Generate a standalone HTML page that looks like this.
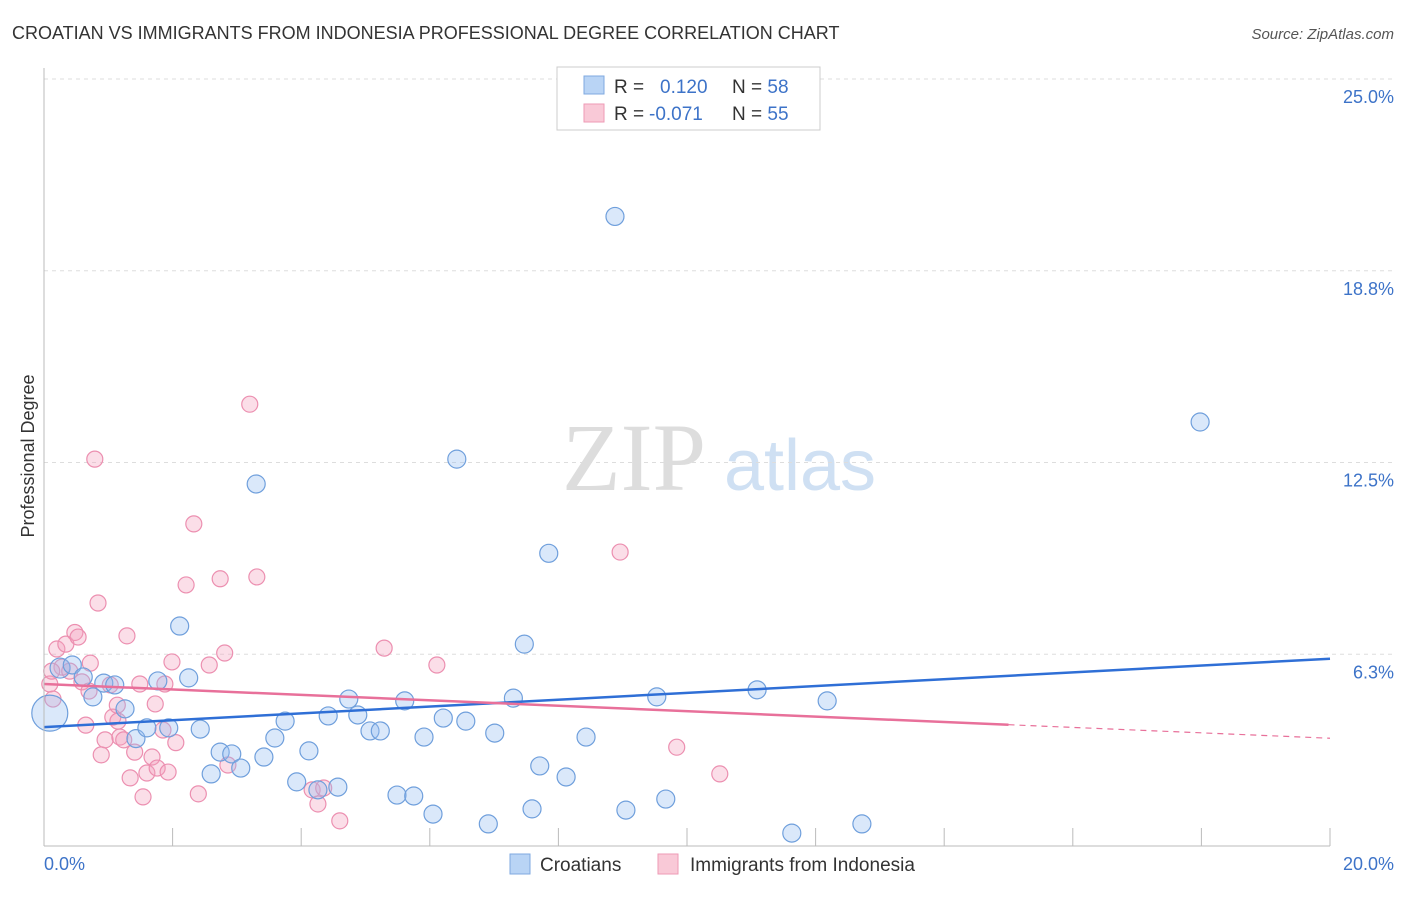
<!DOCTYPE html>
<html><head><meta charset="utf-8"><style>
body{margin:0;background:#fff;font-family:"Liberation Sans",sans-serif;}
</style></head><body>
<svg id="c" width="1406" height="892" xmlns="http://www.w3.org/2000/svg">
<text x="12" y="39" font-size="18" fill="#333">CROATIAN VS IMMIGRANTS FROM INDONESIA PROFESSIONAL DEGREE CORRELATION CHART</text>
<text x="1394" y="39" font-size="15" fill="#555" text-anchor="end" font-style="italic">Source: ZipAtlas.com</text>
<text x="34" y="456" font-size="18" fill="#333" text-anchor="middle" transform="rotate(-90 34 456)">Professional Degree</text>
<g><text x="634" y="490" font-size="96" fill="#ddd" text-anchor="middle" font-family="Liberation Serif,serif">ZIP</text><text x="800" y="490" font-size="72" fill="#cfe0f3" text-anchor="middle">atlas</text></g>
<g id="grid"></g><g id="pts"></g><g id="lines"></g>
<line x1="44" y1="68" x2="44" y2="846" stroke="#bbb"/>
<line x1="44" y1="846" x2="1330" y2="846" stroke="#bbb"/>
<text x="44" y="870" font-size="18" fill="#3d73c8">0.0%</text>
<text x="1394" y="870" font-size="18" fill="#3d73c8" text-anchor="end">20.0%</text>
<g>
<rect x="557" y="67" width="263" height="63" fill="#fff" stroke="#ccc"/>
<rect x="584" y="76" width="20" height="18" fill="#b9d4f5" stroke="#7fa9e0"/>
<rect x="584" y="104" width="20" height="18" fill="#f9c9d7" stroke="#ee9ab5"/>
<text x="614" y="93" font-size="19" fill="#333">R = <tspan fill="#3d73c8" x="660">0.120</tspan><tspan x="732">N = </tspan><tspan fill="#3d73c8">58</tspan></text>
<text x="614" y="120" font-size="19" fill="#333">R = <tspan fill="#3d73c8" x="649">-0.071</tspan><tspan x="732">N = </tspan><tspan fill="#3d73c8">55</tspan></text>
</g>
<g>
<rect x="510" y="854" width="20" height="20" fill="#b9d4f5" stroke="#7fa9e0"/>
<text x="540" y="871" font-size="19" fill="#333">Croatians</text>
<rect x="658" y="854" width="20" height="20" fill="#f9c9d7" stroke="#ee9ab5"/>
<text x="690" y="871" font-size="19" fill="#333">Immigrants from Indonesia</text>
</g>
</svg>
<script>
const yTicks=[25.0,18.75,12.5,6.25];
const yTickLabels=["25.0%","18.8%","12.5%","6.3%"];
const xTicks=[2,4,6,8,10,12,14,16,18,20];
const blueX=[0.09,0.25,0.44,0.61,0.76,0.93,1.10,1.26,1.43,1.60,1.77,1.94,2.11,2.25,2.43,2.60,2.74,2.92,3.06,3.30,3.42,3.59,3.75,3.93,4.12,4.26,4.42,4.57,4.74,4.88,5.07,5.23,5.49,5.61,5.75,5.91,6.05,6.21,6.42,6.56,6.91,7.01,7.30,7.47,7.59,7.71,7.85,8.12,8.43,8.88,9.05,9.53,9.67,11.09,11.63,12.18,12.72,17.98];
const blueY=[4.33,5.80,5.90,5.51,4.86,5.31,5.25,4.47,3.50,3.85,5.38,3.85,7.17,5.48,3.81,2.35,3.06,3.00,2.54,11.80,2.90,3.52,4.07,2.09,3.10,1.83,4.24,1.92,4.79,4.27,3.75,3.75,1.66,4.73,1.63,3.55,1.04,4.17,12.61,4.07,0.72,3.68,4.82,6.58,1.21,2.61,9.54,2.25,3.55,20.52,1.17,4.86,1.53,5.09,0.42,4.73,0.72,13.82];
const blueR=[18,10,9,9,9,9,9,9,9,9,9,9,9,9,9,9,9,9,9,9,9,9,9,9,9,9,9,9,9,9,9,9,9,9,9,9,9,9,9,9,9,9,9,9,9,9,9,9,9,9,9,9,9,9,9,9,9,9];
const pinkX=[0.09,0.14,0.20,0.28,0.34,0.40,0.48,0.53,0.59,0.65,0.72,0.79,0.84,0.89,0.95,1.03,1.07,1.14,1.18,1.24,1.29,1.34,1.41,1.49,1.54,1.60,1.68,1.73,1.76,1.85,1.93,1.99,2.05,2.21,2.33,2.40,2.74,2.81,2.86,2.57,3.20,3.31,4.17,4.26,4.35,4.60,5.29,6.11,8.96,9.84,10.51,1.15,1.88,0.12,0.70];
const pinkY=[5.28,4.79,6.42,5.83,6.58,5.70,6.96,6.81,5.35,3.94,5.96,12.61,7.92,2.97,3.46,5.25,4.20,4.59,3.55,3.46,6.85,2.22,3.06,5.28,1.60,2.38,2.90,4.63,2.54,3.78,2.41,6.00,3.37,8.51,10.50,1.70,8.71,6.29,2.64,5.90,14.40,8.77,1.83,1.37,1.89,0.82,6.45,5.90,9.58,3.22,2.35,4.07,5.28,5.70,5.05];
const X=v=>44+v/20*1286, Y=v=>846-v/25*767;
const NS="http://www.w3.org/2000/svg";
function mk(tag,attrs,parent){const e=document.createElementNS(NS,tag);for(const k in attrs)e.setAttribute(k,attrs[k]);document.getElementById(parent).appendChild(e);return e;}
yTicks.forEach((t,i)=>{
 const l=mk('line',{x1:44,x2:1394,y1:Y(t),y2:Y(t),stroke:'#ddd','stroke-dasharray':'4,4'},'grid');
 
 
 const tx=mk('text',{x:1394,y:Y(t)+24,'font-size':18,fill:'#3d73c8','text-anchor':'end'},'grid');
 tx.textContent=yTickLabels[i];
 
 
});
xTicks.forEach(t=>{
 const l=mk('line',{x1:X(t),x2:X(t),y1:828,y2:846,stroke:'#bbb'},'grid');
 
 
});
pinkX.forEach((v,i)=>{
 const c=mk('circle',{cx:X(v),cy:Y(pinkY[i]),r:8,fill:'rgba(244,160,190,0.35)',stroke:'#ec8fb0','stroke-width':1.2},'pts');
 
 
});
blueX.forEach((v,i)=>{
 const c=mk('circle',{cx:X(v),cy:Y(blueY[i]),r:blueR[i],fill:'rgba(150,190,240,0.35)',stroke:'#6f9fdc','stroke-width':1.2},'pts');
 
 
});
function fit(xs,ys){const n=xs.length,mx=xs.reduce((a,b)=>a+b)/n,my=ys.reduce((a,b)=>a+b)/n;let sxy=0,sxx=0;xs.forEach((x,i)=>{sxy+=(x-mx)*(ys[i]-my);sxx+=(x-mx)**2;});const b=sxy/sxx;return [my-b*mx,b];}
const [ba,bb]=fit(blueX,blueY);
let l=mk('line',{x1:X(0),y1:Y(ba),x2:X(20),y2:Y(ba+bb*20),stroke:'#2f6fd6','stroke-width':2.5},'lines');


const [pa,pb]=fit(pinkX,pinkY);
l=mk('line',{x1:X(0),y1:Y(pa),x2:X(15),y2:Y(pa+pb*15),stroke:'#e8709a','stroke-width':2.5},'lines');


l=mk('line',{x1:X(15),y1:Y(pa+pb*15),x2:X(20),y2:Y(pa+pb*20),stroke:'#e8709a','stroke-width':1.2,'stroke-dasharray':'6,5'},'lines');


</script>
</body></html>
